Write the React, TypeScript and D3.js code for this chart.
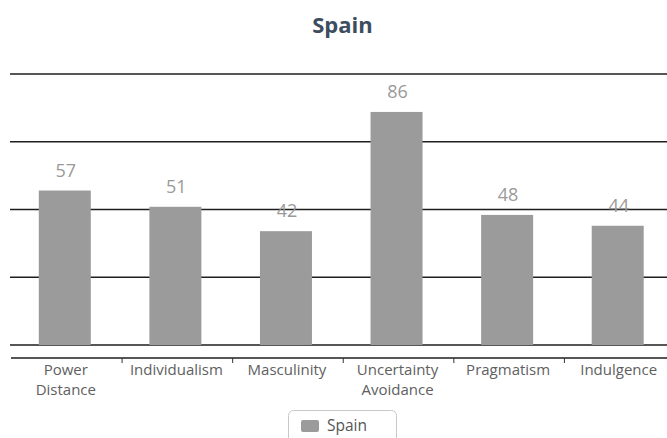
import React from "react";
import * as d3 from "d3";

const categories: string[][] = [
  ["Power", "Distance"],
  ["Individualism"],
  ["Masculinity"],
  ["Uncertainty", "Avoidance"],
  ["Pragmatism"],
  ["Indulgence"],
];
const scores: number[] = [57, 51, 42, 86, 48, 44];
const gridTicks: number[] = [0, 25, 50, 75, 100];
const seriesName = "Spain";

const W = 667;
const H = 438;
const FONT = "'Open Sans', 'Noto Sans', sans-serif";
const BAR = "#9b9b9b";

export default function App() {
  const keys = categories.map((c) => c.join(" "));
  const x = d3.scaleBand<string>().domain(keys).range([11.5, 675]).padding(0);
  const y = d3.scaleLinear().domain([0, 100]).range([345, 74]);
  const barW = 52;
  const axisY = 358;

  return (
    <svg
      width={W}
      height={H}
      style={{ position: "absolute", left: 0, top: 0, background: "#fff" }}
      fontFamily={FONT}
    >
      <text
        x={342.5}
        y={33}
        textAnchor="middle"
        fontSize={22}
        fontWeight="bold"
        fill="#3d4d60"
      >
        Spain
      </text>

      {gridTicks.map((t) => (
        <line
          key={t}
          x1={10}
          x2={W}
          y1={y(t)}
          y2={y(t)}
          stroke="#1e1e1e"
          strokeWidth={1.4}
        />
      ))}

      {scores.map((v, i) => {
        const cx = (x(keys[i]) as number) + x.bandwidth() / 2 - 2;
        return (
          <g key={keys[i]}>
            <rect
              x={cx - barW / 2}
              y={y(v)}
              width={barW}
              height={y(0) - y(v)}
              fill={BAR}
            />
            <text
              x={cx + 1}
              y={y(v) - 14}
              textAnchor="middle"
              fontSize={18}
              fill="#9a9a9a"
            >
              {v}
            </text>
          </g>
        );
      })}

      {/* category axis */}
      <line x1={11} x2={W} y1={axisY} y2={axisY} stroke="#1e1e1e" strokeWidth={1.4} />
      {keys.slice(1).map((k) => (
        <line
          key={k}
          x1={x(k) as number}
          x2={x(k) as number}
          y1={axisY}
          y2={axisY + 5}
          stroke="#333"
          strokeWidth={1}
        />
      ))}
      {categories.map((lines, i) => {
        const cx = (x(keys[i]) as number) + x.bandwidth() / 2 - 1;
        return lines.map((ln, j) => (
          <text
            key={`${keys[i]}-${j}`}
            x={cx}
            y={375 + j * 20}
            textAnchor="middle"
            fontSize={15}
            fill="#606060"
          >
            {ln}
          </text>
        ));
      })}

      {/* legend */}
      <rect
        x={288.5}
        y={410.5}
        width={108}
        height={40}
        rx={5}
        fill="#fff"
        stroke="#c8c8c8"
      />
      <rect x={301} y={420} width={18} height={12} rx={2} fill={BAR} />
      <text x={327} y={431} fontSize={15.5} fill="#555">
        {seriesName}
      </text>
    </svg>
  );
}
